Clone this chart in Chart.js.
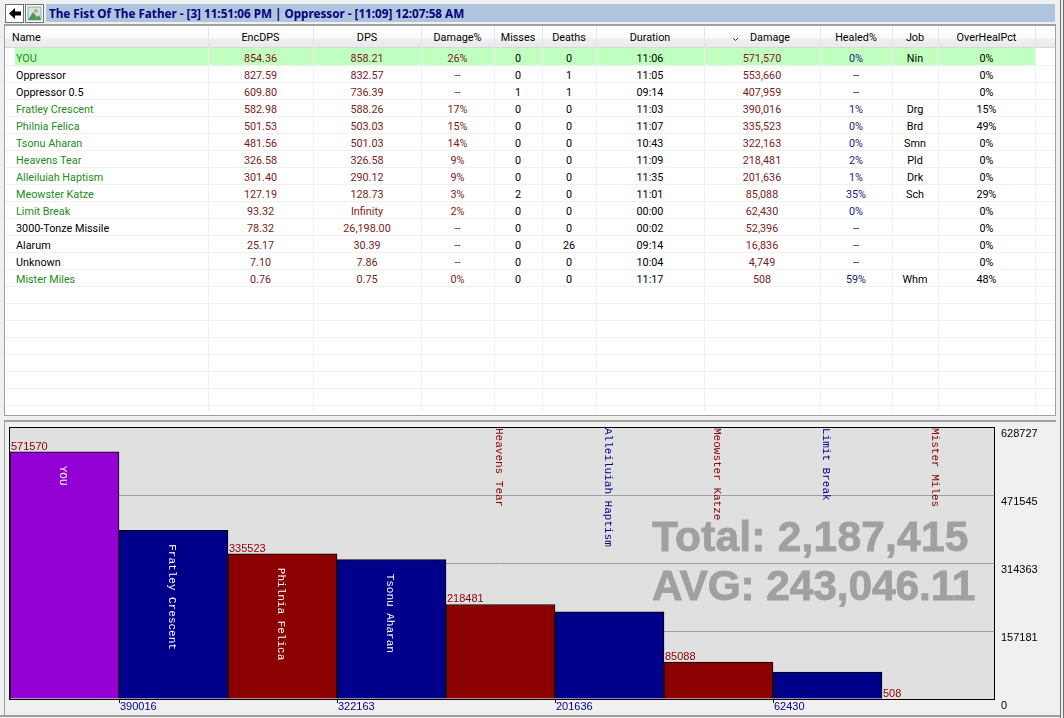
<!DOCTYPE html>
<html>
<head>
<meta charset="utf-8">
<title>Damage</title>
<script src="https://cdn.jsdelivr.net/npm/chart.js@4"></script>
<style>
html, body { margin: 0; padding: 0; background: #f0f0f0; overflow: hidden; }
#page { position: relative; width: 1064px; height: 718px; font-family: Roboto, sans-serif; font-size: 10.8px; overflow: hidden; }
#page div { position: absolute; box-sizing: border-box; }
.cell { white-space: nowrap; height: 17px; line-height: 17px; text-align: center; }
canvas { position: absolute; left: 0; top: 420px; }
</style>
</head>
<body>
<div id="page">
  <div style="left:46px;top:4px;width:1009px;height:18px;background:#b0c4de"></div>
  <div style="left:49px;top:4px;height:18px;font:bold 11.7px/18px 'Noto Sans';color:#000080;white-space:nowrap" id="title"></div>
  <div style="left:5px;top:4px;width:19px;height:19px;background:#fff;border:1px solid #707070">
    <svg width="17" height="17" style="display:block"><path d="M3 8.5 L9 3 V6.5 H15 V10.5 H9 V14 Z" fill="#000"/></svg>
  </div>
  <div style="left:25px;top:4px;width:19px;height:19px;background:#fff;border:1px solid #707070">
    <svg width="17" height="17" style="display:block"><rect x="2" y="2" width="13" height="13" fill="#cfe6f5" stroke="#8aa"/><circle cx="10" cy="6" r="2" fill="#e8a040"/><path d="M2 15 L7 7 L11 12 L13 10 L15 15 Z" fill="#4f9a50"/></svg>
  </div>
  <div id="table" style="left:4px;top:24px;width:1052px;height:392px;background:#fff;border:1px solid #a0a0a0;border-top-width:2px"></div>
  <div style="left:1060px;top:0;width:1px;height:718px;background:#707070"></div>
  <div style="left:1063px;top:0;width:1px;height:718px;background:#707070"></div>
  <div style="left:0;top:715px;width:1060px;height:2px;background:#a0a0a0"></div>
  <canvas id="chart" width="1064" height="298"></canvas>
</div>

<script>
// Table values
const names = ["YOU", "Oppressor", "Oppressor 0.5", "Fratley Crescent", "Philnia Felica", "Tsonu Aharan", "Heavens Tear", "Alleiluiah Haptism", "Meowster Katze", "Limit Break", "3000-Tonze Missile", "Alarum", "Unknown", "Mister Miles"];
const encDps = ["854.36", "827.59", "609.80", "582.98", "501.53", "481.56", "326.58", "301.40", "127.19", "93.32", "78.32", "25.17", "7.10", "0.76"];
const dps = ["858.21", "832.57", "736.39", "588.26", "503.03", "501.03", "326.58", "290.12", "128.73", "Infinity", "26,198.00", "30.39", "7.86", "0.75"];
const damagePct = ["26%", "--", "--", "17%", "15%", "14%", "9%", "9%", "3%", "2%", "--", "--", "--", "0%"];
const misses = ["0", "0", "1", "0", "0", "0", "0", "0", "2", "0", "0", "0", "0", "0"];
const deaths = ["0", "1", "1", "0", "0", "0", "0", "0", "0", "0", "0", "26", "0", "0"];
const durations = ["11:06", "11:05", "09:14", "11:03", "11:07", "10:43", "11:09", "11:35", "11:01", "00:00", "00:02", "09:14", "10:04", "11:17"];
const damage = ["571,570", "553,660", "407,959", "390,016", "335,523", "322,163", "218,481", "201,636", "85,088", "62,430", "52,396", "16,836", "4,749", "508"];
const healedPct = ["0%", "--", "--", "1%", "0%", "0%", "2%", "1%", "35%", "0%", "--", "--", "--", "59%"];
const jobs = ["Nin", "", "", "Drg", "Brd", "Smn", "Pld", "Drk", "Sch", "", "", "", "", "Whm"];
const overHeal = ["0%", "0%", "0%", "15%", "49%", "0%", "0%", "0%", "29%", "0%", "0%", "0%", "0%", "48%"];
const otherRows = ["Oppressor", "Oppressor 0.5", "3000-Tonze Missile", "Alarum", "Unknown"];

// Chart values
const chartNames = ["YOU", "Fratley Crescent", "Philnia Felica", "Tsonu Aharan", "Heavens Tear", "Alleiluiah Haptism", "Meowster Katze", "Limit Break", "Mister Miles"];
const chartValues = [571570, 390016, 335523, 322163, 218481, 201636, 85088, 62430, 508];
const yTicks = [0, 157181, 314363, 471545, 628727];
const titleText = "The Fist Of The Father - [3] 11:51:06 PM | Oppressor - [11:09] 12:07:58 AM";
const totalText = "Total: 2,187,415";
const avgText = "AVG: 243,046.11";

document.getElementById("title").textContent = titleText;

// Columns: header, values, colour, left edge, right edge
const red = "#7b1c1c";
const blue = "#1c1c7b";
const columns = [
    ["Name", names, null, 5, 208],
    ["EncDPS", encDps, red, 208, 313],
    ["DPS", dps, red, 313, 421],
    ["Damage%", damagePct, red, 421, 494],
    ["Misses", misses, "#000", 494, 542],
    ["Deaths", deaths, "#000", 542, 596],
    ["Duration", durations, "#000", 596, 704],
    ["Damage", damage, red, 704, 820],
    ["Healed%", healedPct, blue, 820, 892],
    ["Job", jobs, "#000", 892, 938],
    ["OverHealPct", overHeal, "#000", 938, 1035]
];

const table = document.getElementById("table");

function addBox(x, y, w, h, bg) {
    const d = document.createElement("div");
    d.style.cssText = `left:${x - 5}px;top:${y - 26}px;width:${w}px;height:${h}px;background:${bg}`;
    table.appendChild(d);
}

function addText(x, y, w, text, color, align) {
    const d = document.createElement("div");
    d.className = "cell";
    d.style.cssText = `left:${x - 5}px;top:${y - 26}px;width:${w}px;color:${color};text-align:${align}`;
    d.textContent = text;
    table.appendChild(d);
}

// Header band
addBox(5, 26, 1050, 22, "linear-gradient(#ffffff 0%, #fafafa 55%, #eeeff1 60%, #e9eaec 100%)");
addBox(5, 47, 1050, 1, "#d8d8d8");

// Selected row
addBox(15, 48, 1020, 17, "#c0ffc0");

// Row lines
for (let k = 0; k < 21; k++) {
    addBox(5, 65 + 17 * k, 1050, 1, "#f0f0f0");
}

columns.forEach(col => {
    addBox(col[4], 26, 1, 22, "#e4e4e4");
    addBox(col[4], 48, 1, 364, "#f0f0f0");
    const w = col[4] - col[3];
    if (col[0] === "Name") {
        addText(12, 29, 190, col[0], "#000", "left");
    } else if (col[0] === "Damage") {
        addText(col[3] + 16, 29, w - 16, col[0], "#000", "center");
    } else {
        addText(col[3], 29, w, col[0], "#000", "center");
    }
    col[1].forEach((v, i) => {
        const y = 50 + 17 * i;
        if (col[0] === "Name") {
            const color = otherRows.includes(v) ? "#000" : "#228b22";
            addText(16, y, 190, v, color, "left");
        } else {
            addText(col[3], y, w, v, col[2], "center");
        }
    });
});

// Sort arrow
const arrow = document.createElement("div");
arrow.style.cssText = "left:727px;top:11px;width:7px;height:5px";
arrow.innerHTML = '<svg width="7" height="5" style="display:block"><path d="M1 1 L3.5 3.5 L6 1" fill="none" stroke="#303030"/></svg>';
table.appendChild(arrow);

// Chart
const barColors = chartValues.map((v, i) => {
    if (i === 0) return "#9400d3";
    return i % 2 === 1 ? "#00008b" : "#8b0000";
});

// Bars under one pixel tall don't show, the axis line covers them
function barPaint(ctx, color) {
    return ctx.parsed.y < 2000 ? "transparent" : color;
}

const panelPlugin = {
    id: "panel",
    beforeDraw(chart) {
        const { ctx, chartArea: a } = chart;
        ctx.save();
        ctx.fillStyle = "#a0a0a0";
        ctx.fillRect(4, 0, 1052, 2);
        ctx.fillRect(4, 0, 1, 296);
        ctx.fillStyle = "#e0e0e0";
        ctx.fillRect(9, a.top, 985, a.bottom - a.top);
        ctx.restore();
    },
    afterDatasetsDraw(chart) {
        const { ctx, chartArea: a } = chart;
        const bars = chart.getDatasetMeta(0).data;
        ctx.save();

        // Plot frame
        ctx.strokeStyle = "#000";
        ctx.lineWidth = 1;
        ctx.strokeRect(9.5, a.top + 0.5, 985, a.bottom - a.top);

        // Totals
        ctx.fillStyle = "#a0a0a0";
        ctx.strokeStyle = "#a0a0a0";
        ctx.lineWidth = 0.8;
        ctx.textBaseline = "alphabetic";
        ctx.textAlign = "left";
        ctx.font = "bold 42.5px 'Liberation Sans'";
        ctx.letterSpacing = "0.2px";
        ctx.fillText(totalText, 652, 131);
        ctx.strokeText(totalText, 652, 131);
        ctx.letterSpacing = "-0.13px";
        ctx.fillText(avgText, 652, 180);
        ctx.strokeText(avgText, 652, 180);
        ctx.letterSpacing = "0px";

        bars.forEach((bar, i) => {
            const left = bar.x - bar.width / 2;
            const value = String(chartValues[i]);

            // Value labels: odd bars below the axis with a tick, others above the bar
            ctx.font = "11px 'Liberation Sans'";
            ctx.textAlign = "left";
            ctx.textBaseline = "alphabetic";
            if (i % 2 === 1) {
                ctx.fillStyle = "#00008b";
                ctx.fillText(value, left + 1, a.bottom + 11);
                ctx.fillStyle = "#000";
                ctx.fillRect(Math.round(left), a.bottom, 1, 4);
            } else {
                ctx.fillStyle = "#8b0000";
                ctx.fillText(value, left + 1, bar.y - 2);
            }

            // Names: inside the bar when they fit, otherwise from the top of the plot
            ctx.font = "11px 'Liberation Mono'";
            ctx.textBaseline = "middle";
            const label = chartNames[i];
            const fits = ctx.measureText(label).width + 28 < a.bottom - bar.y;
            ctx.save();
            ctx.translate(bar.x - 1.5, fits ? bar.y + 14 : a.top + 1);
            ctx.rotate(Math.PI / 2);
            ctx.fillStyle = fits ? "#fff" : barColors[i];
            ctx.fillText(label, 0, 0);
            ctx.restore();
        });
        ctx.restore();
    }
};

new Chart(document.getElementById("chart").getContext("2d"), {
    type: "bar",
    data: {
        labels: chartNames,
        datasets: [{
            data: chartValues,
            backgroundColor: ctx => barPaint(ctx, barColors[ctx.dataIndex]),
            borderColor: ctx => barPaint(ctx, "#000"),
            borderWidth: 1,
            categoryPercentage: 1,
            barPercentage: 1
        }]
    },
    plugins: [panelPlugin],
    options: {
        responsive: false,
        animation: false,
        devicePixelRatio: 1,
        layout: { padding: { left: 10, right: 0, top: 7, bottom: 19 }, autoPadding: false },
        plugins: { legend: { display: false }, tooltip: { enabled: false } },
        scales: {
            x: { display: false, grid: { display: false } },
            y: {
                position: "right",
                min: 0,
                max: 628727,
                afterBuildTicks(scale) {
                    scale.ticks = yTicks.map(v => ({ value: v }));
                },
                afterFit(scale) {
                    scale.width = 73;
                    scale.paddingTop = 0;
                    scale.paddingBottom = 0;
                },
                // bars stop short of the frame, ticks carry the grid lines up to it
                grid: { color: "#a0a0a0", tickColor: "#a0a0a0", tickLength: 3 },
                border: { display: false },
                ticks: {
                    color: "#000",
                    padding: 7,
                    labelOffset: 6.5,
                    font: { family: "Liberation Sans", size: 11 },
                    callback: v => String(v)
                }
            }
        }
    }
});
</script>
</body>
</html>
